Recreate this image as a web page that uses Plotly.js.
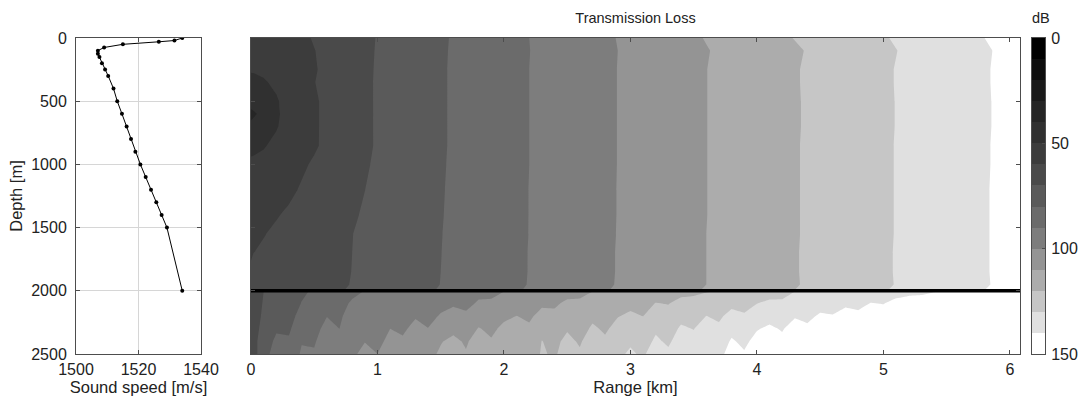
<!DOCTYPE html>
<html>
<head>
<meta charset="utf-8">
<script src="https://cdn.plot.ly/plotly-3.0.1.min.js"></script>
<style>
  html, body { margin: 0; padding: 0; background: #fff; }
  #chart { width: 1080px; height: 400px; }
</style>
</head>
<body>
<div id="chart"></div>
<script>
// Sound-speed profile: depth (m) and speed (m/s)
const profileDepth = [0, 20, 30, 50, 75, 100, 125, 150, 200, 250, 300, 400, 500, 600, 700, 800, 900, 1000, 1100, 1200, 1300, 1400, 1500, 2000];
const profileSpeed = [1534, 1531.5, 1526.5, 1515, 1509, 1507, 1507, 1507.5, 1508.3, 1509.3, 1510.3, 1512, 1513.2, 1514.7, 1516.2, 1517.6, 1519, 1520.6, 1522.3, 1524, 1525.7, 1527.4, 1529.1, 1534];

// Transmission loss in the water column: range (km) columns, depth (m) rows, dB
const waterRange = [0, 0.03, 0.1, 0.2, 0.3, 0.4, 0.5, 0.6, 0.8, 1.0, 1.2, 1.4, 1.6, 1.8, 2.0, 2.2, 2.4, 2.6, 2.8, 3.0, 3.2, 3.4, 3.6, 3.8, 4.0, 4.2, 4.4, 4.6, 4.8, 5.0, 5.2, 5.4, 5.6, 5.8, 6.0, 6.08];
const waterDepth = [0, 100, 250, 350, 500, 560, 600, 640, 700, 850, 1000, 1200, 1400, 1550, 1700, 1850, 1950, 1995];
const waterLoss = [
  [52.0, 52.2, 53.0, 54.5, 56.3, 58.5, 60.6, 62.5, 66.7, 70.3, 73.8, 77.2, 80.6, 83.8, 86.9, 90.0, 92.9, 95.9, 98.8, 101.7, 104.6, 107.5, 110.4, 113.2, 116.1, 118.9, 121.6, 124.2, 126.8, 129.4, 132.0, 134.7, 137.3, 140.0, 142.6, 143.6],
  [51.5, 51.6, 52.2, 53.6, 55.5, 57.6, 59.8, 61.9, 66.3, 70.5, 74.0, 77.4, 80.7, 83.7, 86.8, 89.9, 92.8, 95.7, 98.6, 101.4, 104.1, 106.8, 109.6, 112.3, 115.0, 117.7, 120.4, 123.1, 125.8, 128.5, 131.2, 133.8, 136.4, 139.2, 141.8, 142.8],
  [50.5, 50.6, 51.2, 52.8, 54.9, 57.1, 59.4, 61.6, 66.2, 70.7, 74.1, 77.5, 80.8, 83.8, 86.9, 90.0, 92.9, 95.8, 98.7, 101.5, 104.3, 107.1, 109.9, 112.6, 115.3, 118.1, 120.8, 123.5, 126.2, 128.9, 131.6, 134.2, 136.8, 139.4, 142.0, 143.0],
  [48.5, 48.7, 49.4, 51.2, 54.0, 57.0, 59.8, 62.1, 66.7, 70.7, 74.1, 77.5, 80.8, 83.8, 86.9, 90.0, 92.9, 95.8, 98.7, 101.5, 104.3, 107.1, 109.9, 112.6, 115.3, 118.1, 120.8, 123.5, 126.2, 128.9, 131.6, 134.2, 136.8, 139.4, 142.0, 143.0],
  [44.0, 44.2, 46.0, 49.3, 52.5, 55.8, 59.0, 61.6, 66.2, 70.8, 74.2, 77.5, 80.8, 83.8, 86.9, 90.0, 92.9, 95.8, 98.7, 101.5, 104.3, 107.1, 109.9, 112.6, 115.3, 118.0, 120.7, 123.4, 126.1, 128.8, 131.5, 134.1, 136.7, 139.3, 141.9, 142.9],
  [40.5, 42.5, 45.5, 49.2, 52.5, 55.8, 59.0, 61.6, 66.2, 70.8, 74.2, 77.5, 80.8, 83.8, 86.9, 90.0, 92.9, 95.8, 98.7, 101.5, 104.3, 107.1, 109.9, 112.6, 115.3, 118.0, 120.7, 123.4, 126.1, 128.8, 131.5, 134.1, 136.7, 139.3, 141.9, 142.9],
  [33.0, 38.5, 45.0, 49.0, 52.4, 55.7, 59.0, 61.6, 66.1, 70.8, 74.2, 77.5, 80.8, 83.8, 86.9, 90.0, 92.9, 95.8, 98.7, 101.5, 104.3, 107.1, 109.9, 112.6, 115.3, 118.0, 120.7, 123.4, 126.1, 128.8, 131.5, 134.1, 136.7, 139.3, 141.9, 142.9],
  [39.0, 41.5, 45.5, 49.2, 52.5, 55.8, 59.0, 61.6, 66.2, 70.8, 74.2, 77.5, 80.8, 83.8, 86.9, 90.0, 92.9, 95.8, 98.7, 101.5, 104.3, 107.1, 109.9, 112.6, 115.3, 118.0, 120.7, 123.4, 126.1, 128.8, 131.5, 134.1, 136.7, 139.3, 141.9, 142.9],
  [44.5, 44.7, 46.2, 49.5, 52.7, 55.8, 59.0, 61.6, 66.2, 70.8, 74.2, 77.5, 80.8, 83.8, 86.9, 90.0, 92.9, 95.8, 98.7, 101.5, 104.3, 107.1, 109.9, 112.6, 115.3, 118.0, 120.7, 123.4, 126.1, 128.8, 131.5, 134.1, 136.7, 139.3, 141.9, 142.9],
  [48.6, 48.8, 49.5, 51.5, 54.0, 56.5, 59.0, 61.7, 66.5, 70.7, 74.1, 77.5, 80.8, 83.8, 86.9, 90.0, 92.9, 95.8, 98.7, 101.5, 104.3, 107.1, 109.9, 112.6, 115.3, 118.1, 120.8, 123.5, 126.2, 128.9, 131.6, 134.2, 136.8, 139.4, 142.0, 143.0],
  [51.0, 51.2, 51.8, 53.5, 56.2, 58.8, 61.0, 63.2, 67.5, 71.0, 74.4, 77.7, 80.9, 83.9, 86.9, 90.0, 92.9, 95.8, 98.7, 101.5, 104.3, 107.1, 109.9, 112.6, 115.3, 118.1, 120.8, 123.5, 126.2, 128.9, 131.6, 134.2, 136.8, 139.4, 142.0, 143.0],
  [53.0, 53.2, 54.5, 56.5, 58.5, 60.7, 62.8, 64.6, 68.4, 71.5, 74.8, 78.0, 81.0, 84.0, 87.0, 90.1, 93.0, 95.9, 98.8, 101.5, 104.3, 107.1, 109.9, 112.6, 115.3, 118.1, 120.8, 123.5, 126.2, 128.9, 131.6, 134.2, 136.8, 139.5, 142.1, 143.1],
  [56.0, 56.3, 57.8, 59.5, 61.1, 62.7, 64.4, 66.0, 69.2, 72.2, 75.2, 78.2, 81.1, 84.1, 87.0, 90.1, 93.0, 95.9, 98.8, 101.5, 104.3, 107.1, 109.9, 112.6, 115.3, 118.1, 120.8, 123.5, 126.2, 128.9, 131.6, 134.2, 136.8, 139.5, 142.1, 143.1],
  [58.0, 58.4, 59.7, 61.2, 62.6, 64.0, 65.5, 66.9, 69.9, 72.5, 75.4, 78.4, 81.2, 84.2, 87.1, 90.1, 93.0, 95.9, 98.8, 101.6, 104.4, 107.2, 110.0, 112.7, 115.4, 118.1, 120.8, 123.5, 126.2, 128.9, 131.6, 134.2, 136.8, 139.5, 142.1, 143.1],
  [59.8, 60.1, 61.0, 62.3, 63.6, 64.9, 66.2, 67.5, 70.0, 72.7, 75.6, 78.5, 81.3, 84.3, 87.2, 90.2, 93.1, 96.0, 98.9, 101.7, 104.5, 107.3, 110.0, 112.7, 115.4, 118.2, 120.9, 123.6, 126.3, 129.0, 131.7, 134.3, 136.9, 139.5, 142.1, 143.1],
  [60.3, 60.5, 61.0, 62.3, 63.6, 64.9, 66.2, 67.5, 70.1, 72.8, 75.7, 78.6, 81.4, 84.4, 87.3, 90.2, 93.1, 96.0, 98.9, 101.7, 104.5, 107.3, 110.0, 112.7, 115.4, 118.2, 120.9, 123.6, 126.3, 129.0, 131.7, 134.3, 136.9, 139.5, 142.1, 143.1],
  [60.5, 60.7, 61.2, 62.5, 63.8, 65.1, 66.4, 67.7, 70.3, 73.1, 75.9, 78.7, 81.5, 84.5, 87.4, 90.3, 93.2, 96.1, 99.0, 101.8, 104.6, 107.3, 110.0, 112.7, 115.4, 118.1, 120.8, 123.5, 126.2, 128.9, 131.6, 134.2, 136.8, 139.4, 142.0, 143.0],
  [61.0, 61.2, 61.8, 63.0, 64.3, 65.6, 66.9, 68.2, 70.8, 73.6, 76.4, 79.2, 82.0, 85.0, 87.9, 90.8, 93.7, 96.6, 99.5, 102.3, 105.1, 107.9, 110.6, 113.3, 116.0, 118.7, 121.4, 124.1, 126.8, 129.5, 132.2, 134.8, 137.4, 140.0, 142.6, 143.6]
];

// Transmission loss in the sediment below the seafloor: range (km), depth (m), dB
const sedimentRange = [0, 0.05, 0.1, 0.2, 0.3, 0.4, 0.5, 0.6, 0.7, 0.8, 0.9, 1.0, 1.1, 1.2, 1.3, 1.4, 1.5, 1.6, 1.7, 1.8, 1.9, 2.0,
  2.1, 2.2, 2.3, 2.4, 2.5, 2.6, 2.7, 2.8, 2.9, 3.0, 3.1, 3.2, 3.3, 3.4, 3.5, 3.6, 3.7, 3.8, 3.9, 4.0,
  4.1, 4.2, 4.3, 4.4, 4.5, 4.6, 4.7, 4.8, 4.9, 5.0, 5.1, 5.2, 5.3, 5.4, 5.5, 5.6, 5.7, 5.8, 5.9, 6.0, 6.08];
const sedimentDepth = [2005, 2100, 2200, 2300, 2400, 2500];
const sedimentLoss = [
  [62.0, 66.0, 70.0, 72.9, 75.7, 78.6, 81.2, 83.6, 86.0, 88.3, 90.3, 91.2, 92.1, 93.0, 93.8, 94.7, 95.6, 96.5, 97.3, 98.2, 99.1, 100.0,
   101.4, 102.9, 104.3, 105.7, 107.1, 108.6, 110.0, 111.1, 112.1, 113.2, 114.2, 115.3, 116.3, 117.4, 118.4, 119.5, 120.8, 122.3, 123.8, 125.4,
   126.9, 128.5, 130.0, 130.9, 131.7, 132.6, 133.5, 134.3, 135.2, 136.1, 137.0, 137.8, 138.7, 139.6, 140.4, 141.3, 142.2, 143.0, 143.9, 144.8, 145.5],
  [64.0, 67.8, 70.6, 74.4, 75.6, 80.3, 82.0, 86.4, 87.6, 91.0, 92.3, 91.5, 94.2, 93.9, 96.1, 95.3, 97.6, 99.0, 98.1, 100.9, 100.6, 103.6,
   105.5, 105.3, 108.6, 108.8, 111.5, 111.0, 114.0, 113.5, 116.1, 117.8, 117.2, 120.3, 119.7, 122.8, 122.7, 125.3, 124.7, 127.8, 127.2, 129.9,
   131.5, 130.8, 133.7, 133.0, 135.9, 135.7, 138.1, 137.4, 140.3, 139.7, 142.2, 143.7, 143.0, 145.9, 145.2, 147.2, 148.3, 149.0, 149.0, 149.0, 149.0],
  [65.0, 68.6, 71.1, 76.1, 76.7, 83.2, 84.3, 89.8, 89.1, 92.6, 94.4, 92.6, 96.8, 95.8, 99.1, 97.3, 100.8, 102.9, 101.4, 105.8, 104.2, 107.9,
   110.1, 108.5, 112.8, 111.8, 115.3, 113.5, 117.8, 116.0, 119.6, 121.5, 119.9, 124.4, 122.8, 127.2, 126.4, 130.1, 128.5, 132.8, 131.0, 134.6,
   136.5, 134.8, 139.0, 137.3, 141.5, 140.6, 144.0, 142.3, 146.5, 144.8, 148.3, 149.0, 147.5, 149.0, 147.5, 149.0, 149.0, 149.0, 149.0, 149.0, 149.0],
  [66.0, 69.3, 71.8, 78.5, 78.6, 86.5, 87.1, 92.8, 90.0, 94.7, 97.1, 94.3, 100.0, 98.3, 102.9, 100.2, 104.9, 107.5, 104.8, 110.6, 107.9, 112.3,
   114.5, 111.4, 116.8, 114.9, 119.2, 116.1, 121.5, 118.6, 123.2, 125.7, 122.9, 128.5, 125.8, 131.4, 129.7, 134.3, 131.6, 137.3, 134.6, 139.3,
   141.8, 139.1, 144.8, 142.1, 147.8, 146.2, 149.0, 146.9, 149.0, 146.9, 149.0, 149.0, 146.9, 149.0, 146.9, 149.0, 149.0, 149.0, 149.0, 149.0, 149.0],
  [67.0, 70.0, 73.3, 82.4, 81.2, 89.5, 89.2, 94.5, 91.5, 96.8, 99.8, 96.7, 103.3, 101.5, 106.9, 104.0, 109.4, 112.4, 108.7, 114.6, 110.9, 115.6,
   118.0, 114.3, 120.2, 117.7, 122.4, 118.9, 125.1, 121.6, 126.5, 129.1, 125.6, 131.7, 128.4, 134.8, 132.8, 138.0, 134.7, 141.1, 137.9, 143.1,
   145.9, 142.7, 149.0, 145.9, 149.0, 147.8, 149.0, 146.6, 149.0, 146.6, 149.0, 149.0, 146.6, 149.0, 146.6, 149.0, 149.0, 149.0, 149.0, 149.0, 149.0],
  [68.0, 70.0, 76.3, 84.2, 84.1, 91.1, 90.8, 95.6, 94.0, 98.8, 101.8, 100.0, 105.4, 104.6, 109.1, 107.3, 111.4, 113.4, 110.8, 115.5, 112.9, 116.7,
   118.6, 116.1, 120.7, 119.1, 123.3, 121.3, 126.4, 124.4, 128.6, 131.0, 128.9, 134.0, 131.9, 137.0, 135.8, 140.0, 137.9, 143.0, 140.9, 145.1,
   147.5, 145.4, 149.0, 147.2, 149.0, 148.1, 149.0, 147.2, 149.0, 147.2, 149.0, 149.0, 147.2, 149.0, 147.2, 149.0, 149.0, 149.0, 149.0, 149.0, 149.0]
];

// Water/sediment interface depth (m)
const seafloorDepth = 2000;

// Loss bands: 10 dB steps from 0 to 150 dB, one grey per band
const levelStep = 10;
const levelMax = 150;
const bandColors = ['#000000', '#0d0d0d', '#1a1a1a', '#252525', '#303030', '#3c3c3c', '#4a4a4a', '#5a5a5a',
                    '#6b6b6b', '#7d7d7d', '#949494', '#acacac', '#c6c6c6', '#e0e0e0', '#ffffff'];
const colorbarTicks = [0, 50, 100, 150];
const depthTicks = [0, 500, 1000, 1500, 2000, 2500];
const speedTicks = [1500, 1520, 1540];
const rangeMax = 6.08;

// Stepped colour scale so each 10 dB band is one flat grey
const nBands = bandColors.length;
const stepScale = [];
bandColors.forEach((c, k) => {
  stepScale.push([k / nBands, c]);
  stepScale.push([(k + 1) / nBands, c]);
});
const bandMid = bandColors.map((c, k) => k * levelStep + levelStep / 2);

const FONT = 'Liberation Sans, Arial, Helvetica, sans-serif';
const INK = '#222222';
const FRAME = '#4d4d4d';
const TICK_SIZE = 16;
const LABEL_SIZE = 16.5;

const W = 1080, H = 400;
const yDom = [(H - 354) / H, (H - 38) / H];

function lossContour(x, y, z) {
  return {
    type: 'contour', x: x, y: y, z: z,
    xaxis: 'x2', yaxis: 'y2',
    autocontour: false,
    contours: { start: 0, end: levelMax, size: levelStep, coloring: 'fill', showlines: false },
    line: { width: 0, smoothing: 0 },
    colorscale: stepScale, zmin: 0, zmax: levelMax, zauto: false,
    showscale: false, hoverinfo: 'skip'
  };
}

const traces = [
  {
    type: 'scatter', mode: 'lines+markers',
    x: profileSpeed, y: profileDepth,
    xaxis: 'x', yaxis: 'y',
    line: { color: '#000', width: 1 },
    marker: { color: '#000', size: 4 },
    hoverinfo: 'skip'
  },
  lossContour(waterRange, waterDepth, waterLoss),
  lossContour(sedimentRange, sedimentDepth, sedimentLoss),
  {
    type: 'scatter', mode: 'lines',
    x: [0, rangeMax], y: [seafloorDepth, seafloorDepth],
    xaxis: 'x2', yaxis: 'y2',
    line: { color: '#000', width: 3.5 },
    hoverinfo: 'skip'
  },
  {
    type: 'heatmap',
    x: [0], y: bandMid, z: bandMid.map(v => [v]),
    xaxis: 'x3', yaxis: 'y3',
    colorscale: stepScale, zmin: 0, zmax: levelMax,
    showscale: false, hoverinfo: 'skip'
  }
];

const frameAxis = {
  showline: true, mirror: 'ticks', linecolor: FRAME, linewidth: 1,
  ticks: 'inside', ticklen: 4, tickcolor: FRAME, tickwidth: 1,
  zeroline: false, automargin: false,
  tickfont: { family: FONT, size: TICK_SIZE, color: INK }
};

const layout = {
  width: W, height: H,
  margin: { l: 0, r: 0, t: 0, b: 0 },
  paper_bgcolor: '#fff', plot_bgcolor: '#fff',
  showlegend: false,
  font: { family: FONT, size: TICK_SIZE, color: INK },
  title: {
    text: 'Transmission Loss',
    x: 635.5 / W, xanchor: 'center', xref: 'paper',
    y: 1 - 18 / H, yanchor: 'middle', yref: 'container',
    font: { family: FONT, size: 14.5, color: INK }
  },
  xaxis: Object.assign({}, frameAxis, {
    domain: [76 / W, 201 / W], anchor: 'y',
    range: [1500, 1540], tickvals: speedTicks,
    showgrid: true, gridcolor: '#d6d6d6', gridwidth: 1,
    ticklabelstandoff: 1,
    title: { text: 'Sound speed [m/s]', standoff: 2, font: { family: FONT, size: LABEL_SIZE, color: INK } }
  }),
  yaxis: Object.assign({}, frameAxis, {
    domain: yDom, anchor: 'x',
    range: [2500, 0], tickvals: depthTicks,
    showgrid: true, gridcolor: '#d6d6d6', gridwidth: 1,
    ticklabelstandoff: 5,
    title: { text: 'Depth [m]', standoff: 4, font: { family: FONT, size: LABEL_SIZE, color: INK } }
  }),
  xaxis2: Object.assign({}, frameAxis, {
    domain: [251 / W, 1020 / W], anchor: 'y2',
    range: [0, rangeMax], dtick: 1, tick0: 0,
    showgrid: false, ticklabelstandoff: 1,
    title: { text: 'Range [km]', standoff: 2, font: { family: FONT, size: LABEL_SIZE, color: INK } }
  }),
  yaxis2: Object.assign({}, frameAxis, {
    domain: yDom, anchor: 'x2',
    range: [2500, 0], tickvals: depthTicks,
    showgrid: false, showticklabels: false
  }),
  xaxis3: {
    domain: [1032 / W, 1045 / W], anchor: 'y3',
    range: [-0.5, 0.5], showticklabels: false, ticks: '',
    showline: true, mirror: true, linecolor: FRAME, linewidth: 1,
    showgrid: false, zeroline: false, fixedrange: true
  },
  yaxis3: {
    domain: yDom, anchor: 'x3', side: 'right',
    range: [levelMax, 0], tickvals: colorbarTicks,
    ticks: 'inside', ticklen: 3, tickcolor: FRAME,
    showline: true, mirror: true, linecolor: FRAME, linewidth: 1,
    showgrid: false, zeroline: false, ticklabelstandoff: 2,
    tickfont: { family: FONT, size: TICK_SIZE, color: INK }
  },
  annotations: [
    {
      text: 'dB', xref: 'paper', yref: 'paper',
      x: 1041 / W, y: 1 - 18 / H, xanchor: 'center', yanchor: 'middle',
      showarrow: false, font: { family: FONT, size: 14.5, color: INK }
    }
  ]
};

Plotly.newPlot('chart', traces, layout, { displayModeBar: false, staticPlot: true });
</script>
</body>
</html>
